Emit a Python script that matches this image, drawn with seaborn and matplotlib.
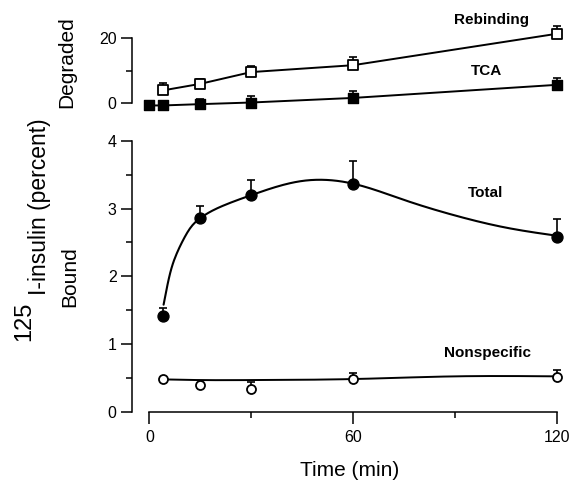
import numpy as np
import pandas as pd
import matplotlib
matplotlib.use("Agg")
import matplotlib.pyplot as plt
import seaborn as sns

# ---------------- data ----------------
# Degraded panel
rebind_t = [4, 15, 30, 60, 120]
rebind_v = [4.0, 6.0, 9.6, 11.7, 21.3]
rebind_err = [2.2, 1.6, 2.0, 2.4, 2.4]

tca_t = [0, 4, 15, 30, 60, 120]
tca_v = [-0.6, -0.6, -0.2, 0.3, 1.7, 5.7]
tca_err = [0.0, 0.0, 1.6, 2.1, 2.1, 2.0]

# Bound panel
total_t = [4, 15, 30, 60, 120]
total_v = [1.42, 2.86, 3.20, 3.36, 2.58]
total_err = [0.11, 0.18, 0.23, 0.34, 0.27]

nonspec_t = [4, 15, 30, 60, 120]
nonspec_v = [0.48, 0.39, 0.33, 0.48, 0.51]
nonspec_err = [0.0, 0.0, 0.11, 0.09, 0.11]

# hand-drawn fitted curves (knots)
total_curve_t = [4.2, 6.1, 8.1, 10, 12, 15, 22, 30, 45, 60, 75, 90, 105, 120]
total_curve_v = [1.58, 2.04, 2.34, 2.54, 2.71, 2.86, 3.05, 3.20, 3.41, 3.37, 3.13, 2.90, 2.72, 2.60]
nonspec_curve_t = [4, 15, 30, 60, 90, 120]
nonspec_curve_v = [0.475, 0.465, 0.465, 0.48, 0.52, 0.52]

x_ticks = [0, 60, 120]
x_minor = [30, 90]
bound_ticks = [0, 1, 2, 3, 4]
degraded_ticks = [0, 20]

# ---------------- helpers ----------------
def natural_spline(xk, yk, num=300):
    xk = np.asarray(xk, float)
    yk = np.asarray(yk, float)
    n = len(xk)
    h = np.diff(xk)
    A = np.zeros((n, n))
    b = np.zeros(n)
    A[0, 0] = A[-1, -1] = 1
    for i in range(1, n - 1):
        A[i, i - 1] = h[i - 1]
        A[i, i] = 2 * (h[i - 1] + h[i])
        A[i, i + 1] = h[i]
        b[i] = 6 * ((yk[i + 1] - yk[i]) / h[i] - (yk[i] - yk[i - 1]) / h[i - 1])
    M = np.linalg.solve(A, b)
    xs = np.linspace(xk[0], xk[-1], num)
    idx = np.clip(np.searchsorted(xk, xs) - 1, 0, n - 2)
    x0 = xk[idx]
    x1 = xk[idx + 1]
    hh = x1 - x0
    a = (x1 - xs) / hh
    bb = (xs - x0) / hh
    ys = a * yk[idx] + bb * yk[idx + 1] + ((a ** 3 - a) * M[idx] + (bb ** 3 - bb) * M[idx + 1]) * hh ** 2 / 6
    return xs, ys


def up_errors(ax, t, v, err):
    t = np.asarray(t, float)
    v = np.asarray(v, float)
    e = np.asarray(err, float)
    m = e > 0
    ax.errorbar(t[m], v[m], yerr=[np.zeros(m.sum()), e[m]], fmt="none",
                ecolor="black", elinewidth=1.2, capsize=2.6, capthick=1.2,
                zorder=2, clip_on=False)


# ---------------- figure ----------------
sns.set_theme(style="ticks")
plt.rcParams["font.family"] = ["Liberation Sans", "DejaVu Sans"]
plt.rcParams["axes.linewidth"] = 1.1
for k in ("text.color", "axes.labelcolor", "xtick.color", "ytick.color", "axes.edgecolor"):
    plt.rcParams[k] = "black"

W, H = 577, 483
fig = plt.figure(figsize=(W / 100, H / 100), dpi=100)
fig.patch.set_facecolor("white")


def px_axes(left, top, right, bottom):
    return fig.add_axes([left / W, 1 - bottom / H, (right - left) / W, (bottom - top) / H])


XLIM = (-5.1, 123.0)

ax_top = px_axes(132, 22, 567, 112)
ax_bot = px_axes(132, 135, 567, 411.5)

for ax in (ax_top, ax_bot):
    ax.set_facecolor("white")
    ax.set_xlim(*XLIM)
    ax.spines["top"].set_visible(False)
    ax.spines["right"].set_visible(False)
    for s in ax.spines.values():
        s.set_color("black")

# ---- top panel (Degraded) ----
ax_top.set_ylim(-2.6, 24.9)
ax_top.spines["bottom"].set_visible(False)
ax_top.spines["left"].set_bounds(0, 20)
ax_top.set_xticks([])
ax_top.set_yticks(degraded_ticks)
ax_top.set_yticks([10], minor=True)
ax_top.tick_params(axis="y", which="major", length=8, width=1.1, direction="out",
                   labelsize=11.5, pad=3, colors="black")
ax_top.tick_params(axis="y", which="minor", length=4.5, width=1.1, direction="out")

sns.lineplot(x=rebind_t, y=rebind_v, ax=ax_top, color="black", linewidth=1.4,
             sort=False, estimator=None, zorder=1)
sns.lineplot(x=tca_t, y=tca_v, ax=ax_top, color="black", linewidth=1.4,
             sort=False, estimator=None, zorder=1)
up_errors(ax_top, rebind_t, rebind_v, rebind_err)
up_errors(ax_top, tca_t, tca_v, tca_err)
sns.scatterplot(x=rebind_t, y=rebind_v, ax=ax_top, marker="s", s=42, color="white",
                edgecolor="black", linewidth=1.3, zorder=4, clip_on=False)
sns.scatterplot(x=tca_t, y=tca_v, ax=ax_top, marker="s", s=50, color="black",
                edgecolor="black", linewidth=1.0, zorder=4, clip_on=False)

ax_top.text(100.9, 25.5, "Rebinding", ha="center", va="center", fontsize=11,
            fontweight="bold", clip_on=False)
ax_top.text(99.2, 9.9, "TCA", ha="center", va="center", fontsize=11,
            fontweight="bold", clip_on=False)
ax_top.set_xlabel("")
ax_top.set_ylabel("")

# ---- bottom panel (Bound) ----
ax_bot.set_ylim(0, 4.09)
ax_bot.spines["left"].set_bounds(0, 4)
ax_bot.spines["bottom"].set_bounds(0, 120)
ax_bot.set_xticks(x_ticks)
ax_bot.set_xticks(x_minor, minor=True)
ax_bot.set_yticks(bound_ticks)
ax_bot.set_yticks([0.5, 1.5, 2.5, 3.5], minor=True)
ax_bot.tick_params(axis="y", which="major", length=8, width=1.1, direction="out",
                   labelsize=11.5, pad=3, colors="black")
ax_bot.tick_params(axis="y", which="minor", length=4.5, width=1.1, direction="out")
ax_bot.tick_params(axis="x", which="major", length=8.5, width=1.1, direction="out",
                   labelsize=11.5, pad=5, colors="black")
ax_bot.tick_params(axis="x", which="minor", length=4, width=1.1, direction="out")

tcx, tcy = natural_spline(total_curve_t, total_curve_v)
ncx, ncy = natural_spline(nonspec_curve_t, nonspec_curve_v)
sns.lineplot(x=tcx, y=tcy, ax=ax_bot, color="black", linewidth=1.5,
             sort=False, estimator=None, zorder=1)
sns.lineplot(x=ncx, y=ncy, ax=ax_bot, color="black", linewidth=1.4,
             sort=False, estimator=None, zorder=1)
up_errors(ax_bot, total_t, total_v, total_err)
up_errors(ax_bot, nonspec_t, nonspec_v, nonspec_err)
sns.scatterplot(x=total_t, y=total_v, ax=ax_bot, marker="o", s=62, color="black",
                edgecolor="black", linewidth=1.0, zorder=4, clip_on=False)
sns.scatterplot(x=nonspec_t, y=nonspec_v, ax=ax_bot, marker="o", s=42, color="white",
                edgecolor="black", linewidth=1.3, zorder=4, clip_on=False)

ax_bot.text(98.9, 3.23, "Total", ha="center", va="center", fontsize=11,
            fontweight="bold")
ax_bot.text(99.5, 0.865, "Nonspecific", ha="center", va="center", fontsize=11,
            fontweight="bold")
ax_bot.set_xlabel("")
ax_bot.set_ylabel("")

# ---- axis titles ----
fig.text(350 / W, 1 - 470 / H, "Time (min)", ha="center", va="center", fontsize=15)
fig.text(67 / W, 1 - 62 / H, "Degraded", ha="center", va="center", fontsize=15,
         rotation=90)
fig.text(70 / W, 1 - 277 / H, "Bound", ha="center", va="center", fontsize=15,
         rotation=90)
fig.text(24 / W, 1 - 321 / H, "125", ha="center", va="center", fontsize=17,
         rotation=90)
fig.text(40 / W, 1 - 207 / H, "I-insulin (percent)", ha="center", va="center",
         fontsize=16.5, rotation=90)

fig.savefig("out.png", dpi=100, facecolor="white")
